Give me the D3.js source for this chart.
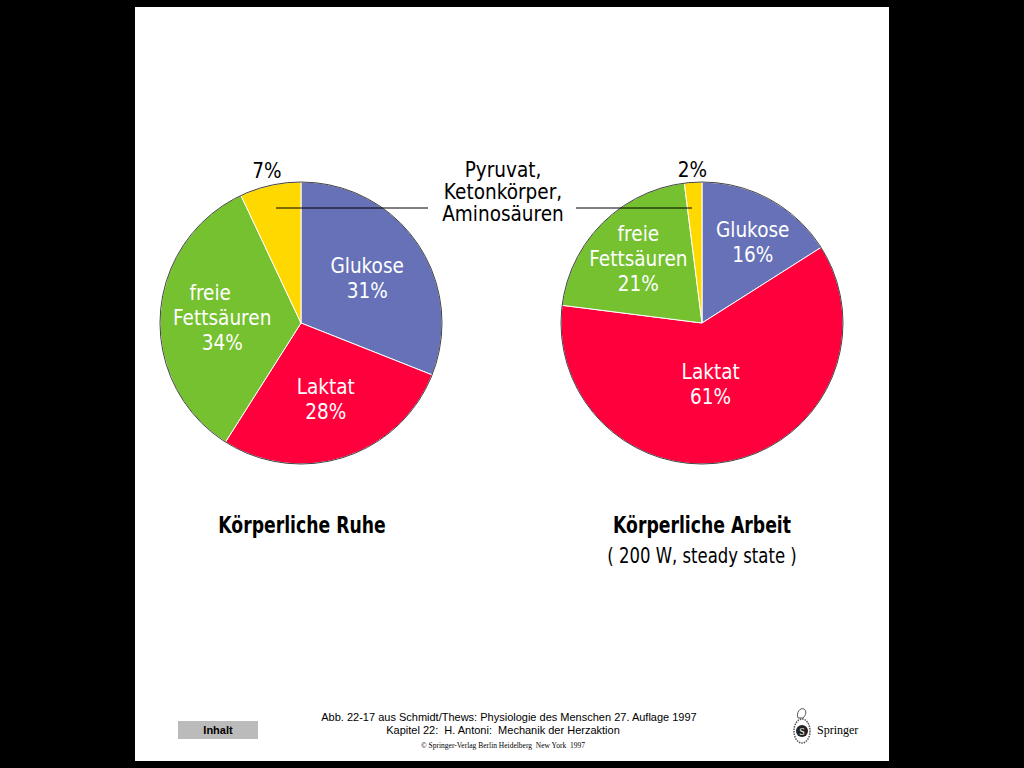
<!DOCTYPE html>
<html>
<head>
<meta charset="utf-8">
<script src="https://cdn.jsdelivr.net/npm/d3@7"></script>
<style>
  body { margin: 0; background: #000; }
  svg { display: block; }
  text { white-space: pre; }
  .lbl { font-family: "DejaVu Sans", sans-serif; }
</style>
</head>
<body>
<script>
// data
let categories = ["Glukose", "Laktat", "freie Fettsäuren", "Pyruvat, Ketonkörper, Aminosäuren"]
let ruheValues = [31, 28, 34, 7]
let arbeitValues = [16, 61, 21, 2]
let sliceLabels = [["Glukose"], ["Laktat"], ["freie", "Fettsäuren"], []]
let legendLines = ["Pyruvat,", "Ketonkörper,", "Aminosäuren"]
let colors = ["#6671B7", "#FF003D", "#75C130", "#FFD800"]

let width = 1024, height = 768
let squeeze = 0.88

let svg = d3.select("body").append("svg")
    .attr("width", width)
    .attr("height", height)

svg.append("rect")
    .attr("x", 135).attr("y", 7)
    .attr("width", 754).attr("height", 754)
    .attr("fill", "#fff")

// condensed-looking text: scale horizontally round its anchor
function ctext(parent, x, y, txt, size, fill, sx, bold) {
    return parent.append("text")
        .attr("class", "lbl")
        .attr("transform", "translate(" + x + "," + y + ") scale(" + sx + ",1)")
        .attr("text-anchor", "middle")
        .attr("font-size", size)
        .attr("font-weight", bold ? "bold" : "normal")
        .attr("fill", fill)
        .text(txt)
}

let r = 141
let pie = d3.pie().sort(null).value(d => d)
let arc = d3.arc().innerRadius(0).outerRadius(r)

function drawPie(values, cx, cy, labelR, labelShift, smallR) {
    let g = svg.append("g").attr("transform", "translate(" + cx + "," + cy + ")")
    let arcs = pie(values)

    g.selectAll("path")
      .data(arcs)
      .enter().append("path")
      .attr("d", arc)
      .attr("fill", (d, i) => colors[i])
      .attr("stroke", "#fff")
      .attr("stroke-width", 1)

    g.append("circle")
      .attr("r", r)
      .attr("fill", "none")
      .attr("stroke", "#444")
      .attr("stroke-width", 1)

    arcs.forEach((d, i) => {
        let mid = (d.startAngle + d.endAngle) / 2
        if (sliceLabels[i].length == 0) {
            let x = Math.sin(mid) * smallR, y = -Math.cos(mid) * smallR
            ctext(g, x, y + 7, values[i] + "%", 21, "#000", squeeze)
            return
        }
        let lr = labelR[i]
        let a = mid + labelShift[i]
        let x = Math.sin(a) * lr, y = -Math.cos(a) * lr
        let lines = sliceLabels[i].concat([values[i] + "%"])
        let y0 = y - (lines.length - 1) * 25 / 2 + 7
        lines.forEach((t, k) => {
            let dx = (lines.length == 3 && k == 0 && values[i] > 30) ? -12 : 0
            ctext(g, x + dx, y0 + k * 25, t, 21, "#fff", squeeze)
        })
    })
}

drawPie(ruheValues, 301, 323, [80, 80, 79], [0, 0, 0], 156)
drawPie(arbeitValues, 702, 323, [95, 62, 90], [0.06, 0.08, 0], 153)

// legend for the small slice
legendLines.forEach((t, i) => ctext(svg, 503, 177 + i * 22, t, 21, "#000", squeeze))

svg.append("line")
    .attr("x1", 276).attr("x2", 428).attr("y1", 208).attr("y2", 208)
    .attr("stroke", "#000").attr("stroke-width", 1)
svg.append("line")
    .attr("x1", 576).attr("x2", 692).attr("y1", 208).attr("y2", 208)
    .attr("stroke", "#000").attr("stroke-width", 1)

// titles
ctext(svg, 302, 533, "Körperliche Ruhe", 23, "#000", 0.75, true)
ctext(svg, 702, 533, "Körperliche Arbeit", 23, "#000", 0.75, true)
ctext(svg, 702, 563, "( 200 W, steady state )", 22, "#000", 0.75, false)

// footer
svg.append("text")
    .attr("x", 509).attr("y", 721)
    .attr("text-anchor", "middle")
    .attr("font-family", "Liberation Sans, sans-serif")
    .attr("font-size", 11)
    .text("Abb. 22-17 aus Schmidt/Thews: Physiologie des Menschen 27. Auflage 1997")
svg.append("text")
    .attr("x", 503).attr("y", 734)
    .attr("text-anchor", "middle")
    .attr("font-family", "Liberation Sans, sans-serif")
    .attr("font-size", 11)
    .text("Kapitel 22:  H. Antoni:  Mechanik der Herzaktion")
svg.append("text")
    .attr("x", 503).attr("y", 748)
    .attr("text-anchor", "middle")
    .attr("font-family", "Liberation Serif, serif")
    .attr("font-size", 7.5)
    .text("© Springer-Verlag Berlin Heidelberg  New York  1997")

svg.append("rect")
    .attr("x", 178).attr("y", 721)
    .attr("width", 80).attr("height", 18)
    .attr("fill", "#bbb")
svg.append("text")
    .attr("x", 218).attr("y", 734)
    .attr("text-anchor", "middle")
    .attr("font-family", "Liberation Sans, sans-serif")
    .attr("font-size", 11).attr("font-weight", "bold")
    .text("Inhalt")

// springer logo
let logo = svg.append("g").attr("transform", "translate(802,731)")
logo.append("ellipse").attr("rx", 8).attr("ry", 12)
    .attr("fill", "#fff").attr("stroke", "#555").attr("stroke-width", 1.5).attr("stroke-dasharray", "1.5,1")
logo.append("circle").attr("r", 6).attr("fill", "#222")
logo.append("text").attr("y", 3.5).attr("text-anchor", "middle")
    .attr("font-family", "Liberation Serif, serif").attr("font-size", 10).attr("fill", "#fff").text("S")
logo.append("path").attr("d", "M-4,-13 C-6,-18 -2,-24 2,-22 C5,-20 4,-16 1,-13 Z")
    .attr("fill", "#fff").attr("stroke", "#555")
svg.append("text")
    .attr("x", 817).attr("y", 734)
    .attr("font-family", "Liberation Serif, serif")
    .attr("font-size", 12)
    .text("Springer")
</script>
</body>
</html>
